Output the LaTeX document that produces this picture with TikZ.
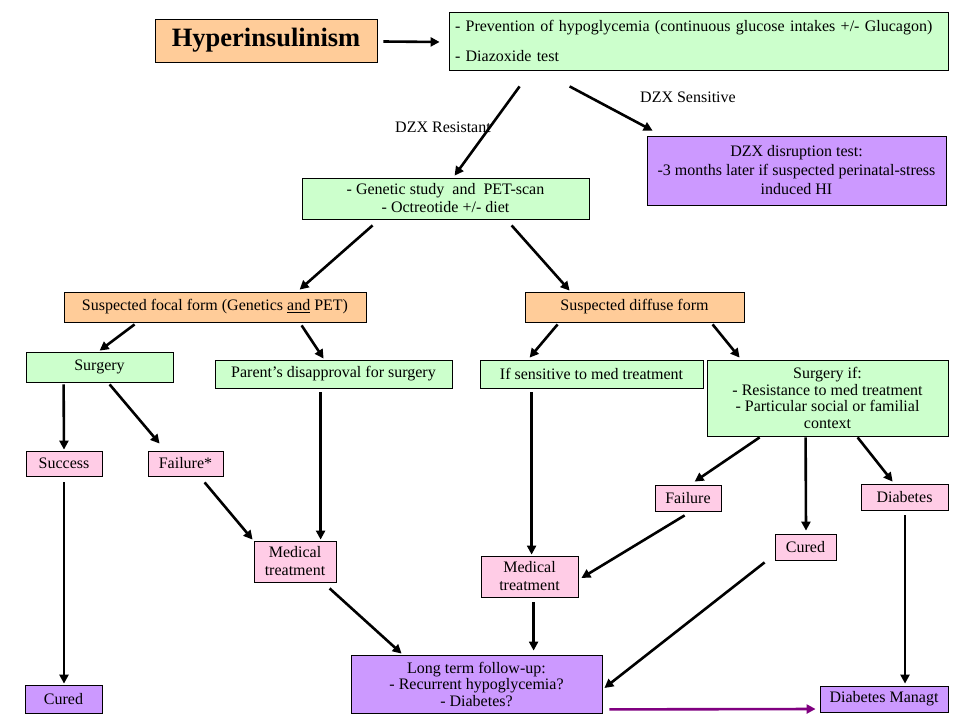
\documentclass[tikz,border=0pt]{standalone}
\usepackage{fontspec}
\setmainfont{Liberation Serif}
\usetikzlibrary{arrows.meta}
\definecolor{orangeF}{HTML}{FFCC99}
\definecolor{greenF}{HTML}{CCFFCC}
\definecolor{purpleF}{HTML}{CC99FF}
\definecolor{pinkF}{HTML}{FFCCE6}
\definecolor{arrPurple}{HTML}{800080}
\begin{document}
\begin{tikzpicture}[x=1pt,y=-1pt,
  box/.style={draw=black, line width=0.8pt, inner sep=0pt, align=center,
    font=\fontsize{16}{18}\selectfont},
  orangebox/.style={box, fill=orangeF},
  greenbox/.style={box, fill=greenF},
  purplebox/.style={box, fill=purpleF},
  pinkbox/.style={box, fill=pinkF},
  arr/.style={line width=2.6pt, -{Triangle[length=9pt,width=9pt]}},
  parr/.style={arr, draw=arrPurple, -{Triangle[length=9pt,width=9pt]}, arrPurple},
  lbl/.style={font=\fontsize{16}{18}\selectfont, inner sep=0pt}]
\useasboundingbox[fill=white] (0,0) rectangle (960,720);

% nodes
\node[orangebox, minimum width=222pt, minimum height=43pt,
  font=\fontsize{26.5}{28}\selectfont\bfseries] (hyp) at (266,40.5) {Hyperinsulinism};
\node[greenbox, minimum width=499pt, minimum height=58pt, align=left,
  text width=487pt] (top) at (698.5,41)
  {- Prevention of hypoglycemia (continuous glucose intakes +/- Glucagon)\\[12pt]- Diazoxide test};
\node[purplebox, minimum width=299pt, minimum height=69pt,
  font=\fontsize{16}{19}\selectfont] (dzx) at (796.5,170.5)
  {DZX disruption test:\\-3 months later if suspected perinatal-stress\\induced HI};
\node[greenbox, minimum width=287pt, minimum height=41pt] (gen) at (445.5,198.5)
  {- Genetic study \ and \ PET-scan\\- Octreotide +/- diet};
\node[orangebox, minimum width=302pt, minimum height=30pt] (focal) at (215,307)
  {Suspected focal form (Genetics \underline{and} PET)};
\node[orangebox, minimum width=219pt, minimum height=30pt] (diffuse) at (634.5,307)
  {Suspected diffuse form};
\node[greenbox, minimum width=147pt, minimum height=30pt] (surg) at (99.5,367) {Surgery};
\node[greenbox, minimum width=237pt, minimum height=28pt] (parent) at (333.5,374)
  {Parent’s disapproval for surgery};
\node[greenbox, minimum width=223pt, minimum height=28pt] (sens) at (591.5,374)
  {If sensitive to med treatment};
\node[greenbox, minimum width=241pt, minimum height=76pt,
  font=\fontsize{16}{16.5}\selectfont] (surgif) at (827.5,398)
  {Surgery if:\\- Resistance to med treatment\\- Particular social or familial\\context};
\node[pinkbox, minimum width=76pt, minimum height=25pt] (success) at (64,463.5) {Success};
\node[pinkbox, minimum width=75pt, minimum height=25pt] (fail1) at (185.5,463.5) {Failure*};
\node[purplebox, minimum width=77pt, minimum height=28pt] (cured1) at (63.5,699) {Cured};
\node[pinkbox, minimum width=82pt, minimum height=41pt,
  font=\fontsize{16}{18}\selectfont] (med1) at (295,561.5) {Medical\\treatment};
\node[pinkbox, minimum width=97pt, minimum height=41pt,
  font=\fontsize{16}{18}\selectfont] (med2) at (529.5,576.5) {Medical\\treatment};
\node[pinkbox, minimum width=66pt, minimum height=26pt] (fail2) at (688,498) {Failure};
\node[pinkbox, minimum width=87pt, minimum height=26pt] (diab) at (904.5,497) {Diabetes};
\node[pinkbox, minimum width=61pt, minimum height=26pt] (cured2) at (805.5,547) {Cured};
\node[purplebox, minimum width=251pt, minimum height=58pt,
  font=\fontsize{16}{16.5}\selectfont] (long) at (476.5,684)
  {Long term follow-up:\\- Recurrent hypoglycemia?\\- Diabetes?};
\node[purplebox, minimum width=128pt, minimum height=26pt] (managt) at (884,699) {Diabetes Managt};

% labels
\node[lbl] (lres) at (443,127) {DZX Resistant};
\node[lbl, anchor=west] (lsen) at (640,97) {DZX Sensitive};

% connectors
\draw[arr] ([shift={(6,1)}]hyp.east) -- ([shift={(-9,1)}]top.west);
\draw[arr] ([shift={(71,16)}]top.south west) -- ([shift={(153,-2)}]gen.north west);
\draw[arr] ([shift={(121,16)}]top.south west) -- ([shift={(6,-5)}]dzx.north west);
\draw[arr] ([shift={(71,6)}]gen.south west) -- ([shift={(236,-2)}]focal.north west);
\draw[arr] ([shift={(210,6)}]gen.south west) -- ([shift={(45,-1)}]diffuse.north west);
\draw[arr] ([shift={(71,2)}]focal.south west) -- ([shift={(74,-1)}]surg.north west);
\draw[arr] ([shift={(238,3)}]focal.south west) -- ([shift={(109,-1)}]parent.north west);
\draw[arr] ([shift={(33,2)}]diffuse.south west) -- ([shift={(50,-2)}]sens.north west);
\draw[arr] ([shift={(188,2)}]diffuse.south west) -- ([shift={(33,-2)}]surgif.north west);
\draw[arr] ([shift={(38,2)}]surg.south west) -- ([shift={(0,-1)}]success.north);
\draw[arr] ([shift={(84,2)}]surg.south west) -- ([shift={(12,-7)}]fail1.north west);
\draw[arr] ([shift={(0,6)}]success.south) -- ([shift={(0.5,-1)}]cured1.north);
\draw[arr] ([shift={(57,6)}]fail1.south west) -- ([shift={(-1,-1)}]med1.north west);
\draw[arr] ([shift={(106,4)}]parent.south west) -- ([shift={(67,-1)}]med1.north west);
\draw[arr] ([shift={(52,4)}]sens.south west) -- ([shift={(51,-1)}]med2.north west);
\draw[arr] ([shift={(53,1)}]surgif.south west) -- ([shift={(40,-3)}]fail2.north west);
\draw[arr] ([shift={(99,1)}]surgif.south west) -- ([shift={(0.5,-3)}]cured2.north);
\draw[arr] ([shift={(151,1)}]surgif.south west) -- ([shift={(32,-2)}]diab.north west);
\draw[arr] ([shift={(30,4)}]fail2.south west) -- ([shift={(3,1.5)}]med2.east);
\draw[arr] ([shift={(76,6)}]med1.south west) -- ([shift={(51,-1)}]long.north west);
\draw[arr] ([shift={(53,5)}]med2.south west) -- ([shift={(183,-4)}]long.north west);
\draw[arr] ([shift={(-10,2)}]cured2.south west) -- ([shift={(2,4)}]long.east);
\draw[arr] ([shift={(0.5,5)}]diab.south) -- ([shift={(21,-2)}]managt.north);
\draw[parr] ([shift={(7,-4)}]long.south east) -- ([shift={(-4,10)}]managt.west);
\end{tikzpicture}
\end{document}
